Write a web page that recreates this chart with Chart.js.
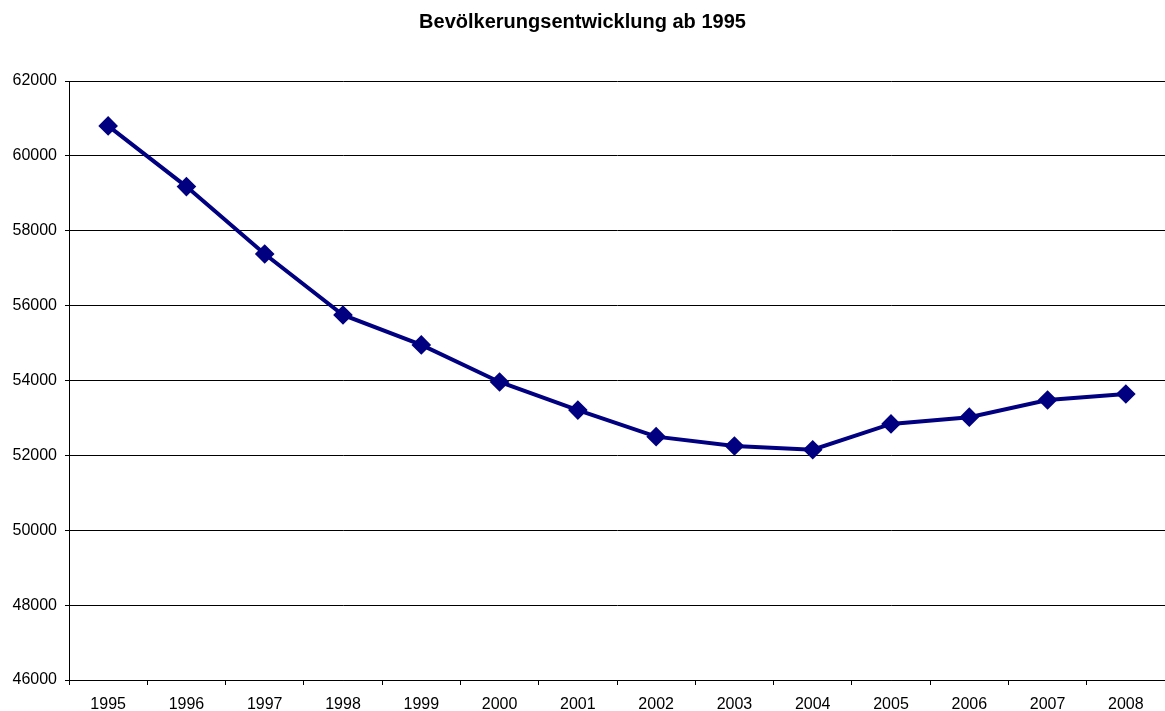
<!DOCTYPE html>
<html lang="de">
<head>
  <meta charset="UTF-8" />
  <title>Bevölkerungsentwicklung ab 1995</title>
  <script src="https://cdn.jsdelivr.net/npm/chart.js"></script>
  <style>
    html, body { margin: 0; padding: 0; background: #fff; }
    #wrap { width: 1165px; height: 711px; }
  </style>
</head>
<body>
  <div id="wrap"><canvas id="popChart" width="1165" height="711"></canvas></div>
  <script>
    // Data
    const years = ['1995','1996','1997','1998','1999','2000','2001','2002','2003','2004','2005','2006','2007','2008'];
    const population = [60800, 59180, 57380, 55750, 54950, 53960, 53210, 52500, 52250, 52150, 52840, 53020, 53480, 53640];
    const yMin = 46000, yMax = 62000, yStep = 2000;

    const font = 'Arial, "Liberation Sans", Helvetica, sans-serif';

    new Chart(document.getElementById('popChart'), {
      type: 'line',
      data: {
        labels: years,
        datasets: [{
          label: 'Bevölkerung',
          data: population,
          borderColor: '#000080',
          backgroundColor: '#000080',
          borderWidth: 4,
          pointStyle: 'rectRot',
          pointRadius: 7,
          pointHoverRadius: 7,
          tension: 0,
          fill: false
        }]
      },
      options: {
        responsive: false,
        animation: false,
        layout: { padding: 0, autoPadding: false },
        plugins: {
          legend: { display: false },
          tooltip: { enabled: false },
          title: {
            display: true,
            text: 'Bevölkerungsentwicklung ab 1995',
            color: '#000',
            font: { family: font, size: 20, weight: 'bold' },
            padding: { top: 10, bottom: 47 }
          }
        },
        scales: {
          x: {
            offset: true,
            grid: { display: true, drawOnChartArea: false, offset: true, color: '#000', tickLength: 5, tickColor: '#000' },
            border: { color: '#000', width: 1 },
            ticks: { color: '#000', font: { family: font, size: 16 }, padding: 10, maxRotation: 0 },
            afterFit: s => { s.height = 31; s.paddingLeft = 0; s.paddingRight = 0; }
          },
          y: {
            min: yMin, max: yMax,
            ticks: {
              stepSize: yStep, color: '#000', font: { family: font, size: 16 }, padding: 8,
              callback: v => String(v)
            },
            grid: { color: '#000', lineWidth: 1, tickLength: 4, tickColor: '#000' },
            border: { color: '#000', width: 1 },
            afterFit: s => { s.width = 69; }
          }
        }
      }
    });
  </script>
</body>
</html>
